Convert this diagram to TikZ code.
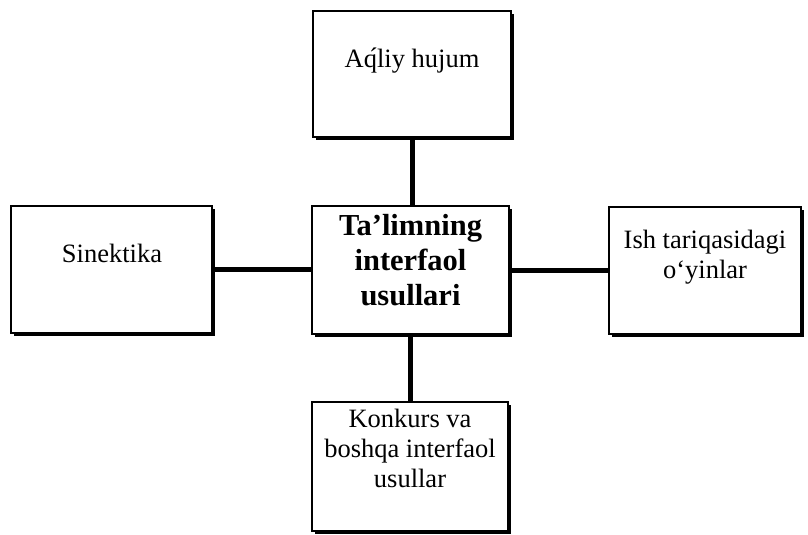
\documentclass[tikz,border=0pt]{standalone}
\usepackage{fontspec}
\setmainfont{Liberation Serif}
\usetikzlibrary{shadows}
\begin{document}
\begin{tikzpicture}[x=1pt,y=-1pt,
  boxst/.style={draw, line width=2pt, fill=white, inner sep=0pt,
    drop shadow={shadow xshift=3pt, shadow yshift=-3pt, fill=black, opacity=1}},
  txt/.style={anchor=base, align=center, inner sep=0pt,
    font=\fontsize{26.5}{30}\selectfont},
  btxt/.style={anchor=base, align=center, inner sep=0pt,
    font=\fontsize{30.5}{35}\selectfont\bfseries},
  conn/.style={line width=5pt}]
\useasboundingbox (0,0) rectangle (808,535);
% boxes
\node[boxst, minimum width=198pt, minimum height=126pt] (top) at (412,74) {};
\node[boxst, minimum width=201pt, minimum height=127pt] (left) at (111.5,269.5) {};
\node[boxst, minimum width=197pt, minimum height=128pt] (center) at (410.5,270) {};
\node[boxst, minimum width=192pt, minimum height=127pt] (right) at (705,270.5) {};
\node[boxst, minimum width=196pt, minimum height=129pt] (bottom) at (410,466.5) {};
% connectors
\draw[conn] (top.south) -- (top.south |- center.north);
\draw[conn] (left.east) -- (left.east -| center.west);
\draw[conn] (center.east) -- (center.east -| right.west);
\draw[conn] (bottom.north) -- (bottom.north |- center.south);
% texts (base anchor = baseline of last line)
\node[txt] (ttop) at (412,67) {A\'{q}liy hujum};
\node[txt] (tleft) at (112,262) {Sinektika};
\node[txt] (tright) at (705,278) {Ish tariqasidagi\\o‘yinlar};
\node[btxt] (tcenter) at (410.5,305) {Ta’limning\\interfaol\\usullari};
\node[txt] (tbottom) at (410,487) {Konkurs va\\boshqa interfaol\\usullar};
\end{tikzpicture}
\end{document}
